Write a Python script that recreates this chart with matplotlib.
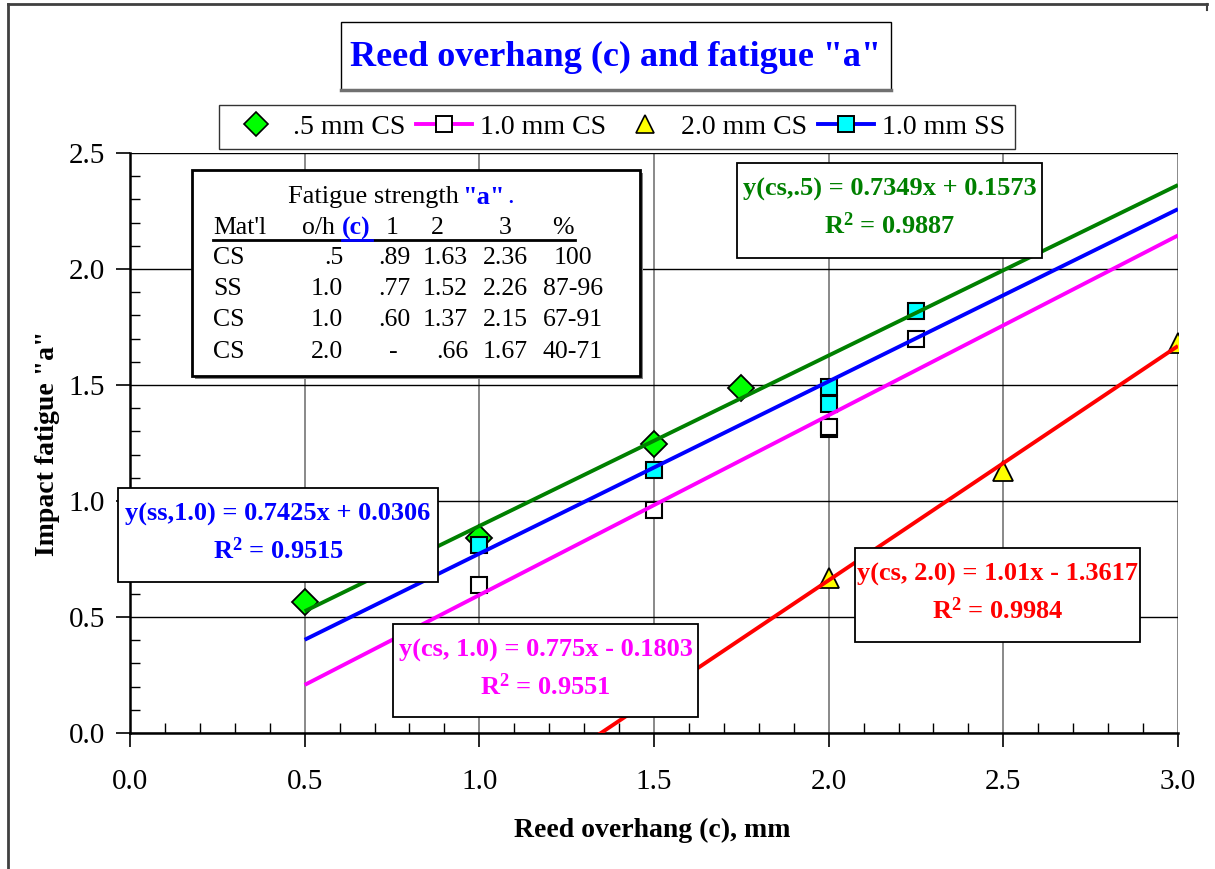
import matplotlib
matplotlib.use('Agg')
import matplotlib.pyplot as plt
from matplotlib.lines import Line2D
from matplotlib.patches import Rectangle
from matplotlib.ticker import MultipleLocator, FormatStrFormatter

# ---------------- data ----------------
cs05_x = [0.5, 1.0, 1.5, 1.75]
cs05_y = [0.565, 0.84, 1.245, 1.487]

cs10_x = [1.0, 1.5, 2.0, 2.0, 2.25]
cs10_y = [0.64, 0.96, 1.31, 1.32, 1.70]

cs20_x = [2.0, 2.5, 3.0]
cs20_y = [0.67, 1.13, 1.68]

ss10_x = [1.0, 1.5, 2.0, 2.0, 2.25]
ss10_y = [0.81, 1.135, 1.49, 1.42, 1.82]

series_labels = [".5 mm CS", "1.0 mm CS", "2.0 mm CS", "1.0 mm SS"]

# trendlines (from the equations printed on the chart)
trend_slopes = [0.7349, 0.775, 1.01, 0.7425]
trend_intercepts = [0.1573, -0.1803, -1.3617, 0.0306]
trend_xstart = [0.5, 0.5, 1.0, 0.5]
trend_xend = [3.0, 3.0, 3.0, 3.0]
trend_colors = ['#008000', '#FF00FF', '#FF0000', '#0000FF']

eq_line1 = ["y(cs,.5) = 0.7349x + 0.1573", "y(cs, 1.0) = 0.775x - 0.1803",
            "y(cs, 2.0) = 1.01x - 1.3617", "y(ss,1.0) = 0.7425x + 0.0306"]
eq_r2 = ["0.9887", "0.9551", "0.9984", "0.9515"]

table_title = "Fatigue strength"
table_header = ["Mat'l", "o/h", "(c)", "1", "2", "3", "%"]
table_mat = ["CS", "SS", "CS", "CS"]
table_oh = [".5", "1.0", "1.0", "2.0"]
table_c1 = [".89", ".77", ".60", "-"]
table_c2 = ["1.63", "1.52", "1.37", ".66"]
table_c3 = ["2.36", "2.26", "2.15", "1.67"]
table_pct = ["100", "87-96", "67-91", "40-71"]

title = 'Reed overhang (c) and fatigue "a"'
xlabel = "Reed overhang (c), mm"
ylabel = 'Impact fatigue "a"'

# ---------------- figure ----------------
W, H = 1215, 869
plt.rcParams['font.family'] = ['Liberation Serif', 'DejaVu Serif']
plt.rcParams['mathtext.fontset'] = 'custom'
plt.rcParams['mathtext.rm'] = 'Liberation Serif'
plt.rcParams['mathtext.bf'] = 'Liberation Serif:bold'
plt.rcParams['mathtext.it'] = 'Liberation Serif:italic'


def fx(px):
    return px / W


def fy(py):
    return 1 - py / H


fig = plt.figure(figsize=(W / 100, H / 100), dpi=100)
ax = fig.add_axes([fx(130), fy(733), (1178 - 130) / W, (733 - 153) / H])
ax.set_xlim(0, 3.0)
ax.set_ylim(0, 2.5)

# markers
ax.plot(cs05_x, cs05_y, linestyle='none', marker='D', markersize=13,
        markerfacecolor='#00FF00', markeredgecolor='black', markeredgewidth=1.3, zorder=3)
ax.plot(cs10_x, cs10_y, linestyle='none', marker='s', markersize=12,
        markerfacecolor='white', markeredgecolor='black', markeredgewidth=1.5, zorder=3)
ax.plot(cs20_x, cs20_y, linestyle='none', marker='^', markersize=14.5,
        markerfacecolor='#FFFF00', markeredgecolor='black', markeredgewidth=1.3, zorder=3)
ax.plot(ss10_x, ss10_y, linestyle='none', marker='s', markersize=12,
        markerfacecolor='#00FFFF', markeredgecolor='black', markeredgewidth=1.5, zorder=3)

# trendlines
for m, b, x0, x1, c in zip(trend_slopes, trend_intercepts, trend_xstart, trend_xend, trend_colors):
    ax.plot([x0, x1], [m * x0 + b, m * x1 + b], color=c, lw=2.8, zorder=4, solid_capstyle='butt')

# grid / axes styling
ax.set_axisbelow(True)
ax.xaxis.set_major_locator(MultipleLocator(0.5))
ax.xaxis.set_minor_locator(MultipleLocator(0.1))
ax.yaxis.set_major_locator(MultipleLocator(0.5))
ax.yaxis.set_minor_locator(MultipleLocator(0.1))
ax.xaxis.set_major_formatter(FormatStrFormatter('%.1f'))
ax.yaxis.set_major_formatter(FormatStrFormatter('%.1f'))
ax.xaxis.grid(True, which='major', color='#808080', lw=1.3)
ax.yaxis.grid(True, which='major', color='black', lw=1.0)
for s in ['top', 'right']:
    ax.spines[s].set_visible(False)
for s in ['left', 'bottom']:
    ax.spines[s].set_linewidth(1.8)
ax.tick_params(axis='x', which='major', direction='out', length=10, width=1.2, pad=16, labelsize=21)
ax.tick_params(axis='x', which='minor', direction='in', length=7, width=1.0)
ax.tick_params(axis='y', which='major', direction='out', length=10, width=1.2, pad=8, labelsize=21)
ax.tick_params(axis='y', which='minor', direction='in', length=7, width=1.0)

ax.set_xlabel(xlabel, fontsize=20, fontweight='bold')
ax.xaxis.set_label_coords((652 - 130) / 1048, (733 - 818) / 580)
ax.set_ylabel(ylabel, fontsize=20, fontweight='bold')
ax.yaxis.set_label_coords((60 - 130) / 1048, 0.5)


def box(x0, y0, x1, y1, lw=1.3, shadow=False):
    if shadow:
        fig.add_artist(Rectangle((fx(x0 + 3), fy(y1 + 3)), (x1 - x0) / W, (y1 - y0) / H,
                                 transform=fig.transFigure, facecolor='#808080',
                                 edgecolor='none', zorder=5))
    fig.add_artist(Rectangle((fx(x0), fy(y1)), (x1 - x0) / W, (y1 - y0) / H,
                             transform=fig.transFigure, facecolor='white',
                             edgecolor='black', lw=lw, zorder=6))


# outer chart border
fig.add_artist(Line2D([fx(8), fx(8)], [fy(4), fy(880)], color='#404040', lw=2, transform=fig.transFigure))
fig.add_artist(Line2D([fx(8), fx(1207)], [fy(4), fy(4)], color='#404040', lw=2, transform=fig.transFigure))
fig.add_artist(Line2D([fx(1207), fx(1207)], [fy(4), fy(10)], color='#404040', lw=1.5, transform=fig.transFigure))

# title
box(341, 22, 891, 90, lw=1.0)
fig.add_artist(Line2D([fx(341), fx(891)], [fy(90), fy(90)], color='#707070', lw=2.5,
                      transform=fig.transFigure, zorder=7))
fig.text(fx(616), fy(57), title, ha='center', va='center', fontsize=26,
         fontweight='bold', color='#0000FF', zorder=8)

# legend
handles = [
    Line2D([], [], linestyle='none', marker='D', markersize=12, markerfacecolor='#00FF00',
           markeredgecolor='black', markeredgewidth=1.2),
    Line2D([], [], color='#FF00FF', lw=2.8, marker='s', markersize=11, markerfacecolor='white',
           markeredgecolor='black', markeredgewidth=1.4),
    Line2D([], [], linestyle='none', marker='^', markersize=13, markerfacecolor='#FFFF00',
           markeredgecolor='black', markeredgewidth=1.2),
    Line2D([], [], color='#0000FF', lw=2.8, marker='s', markersize=11, markerfacecolor='#00FFFF',
           markeredgecolor='black', markeredgewidth=1.4),
]
leg = fig.legend(handles, series_labels, ncol=4, loc='center',
                 bbox_to_anchor=(fx(617), fy(127)), frameon=True, fancybox=False,
                 edgecolor='black', prop={'size': 20}, handlelength=2.0,
                 handletextpad=0.3, columnspacing=0.4, borderpad=0.35, borderaxespad=0)
leg.get_frame().set_linewidth(1.0)
leg.set_zorder(8)

# fatigue strength table
box(192, 170, 640, 376, lw=2.0, shadow=True)
ts = 18.5
fig.text(fx(288), fy(197), table_title, ha='left', va='center', fontsize=19, zorder=8)
fig.text(fx(462), fy(197), '"a"', ha='left', va='center', fontsize=19, fontweight='bold',
         color='#0000FF', zorder=8)
fig.text(fx(507), fy(197), '.', ha='left', va='center', fontsize=19, color='#0000FF', zorder=8)

hy = 228
fig.text(fx(213), fy(hy), table_header[0], ha='left', va='center', fontsize=ts, zorder=8)
fig.text(fx(302), fy(hy), table_header[1], ha='left', va='center', fontsize=ts, zorder=8)
fig.text(fx(342), fy(hy), table_header[2], ha='left', va='center', fontsize=ts,
         fontweight='bold', color='#0000FF', zorder=8)
for lab, cx in zip(table_header[3:], [392, 437, 505, 563]):
    fig.text(fx(cx), fy(hy), lab, ha='center', va='center', fontsize=ts, zorder=8)
fig.add_artist(Line2D([fx(213), fx(575)], [fy(240), fy(240)], color='black', lw=2,
                      transform=fig.transFigure, zorder=8))
fig.add_artist(Line2D([fx(342), fx(372)], [fy(240), fy(240)], color='#0000FF', lw=2,
                      transform=fig.transFigure, zorder=9))

row_y = [258, 289, 320, 352]
for i, ry in enumerate(row_y):
    fig.text(fx(213), fy(ry), table_mat[i], ha='left', va='center', fontsize=ts, zorder=8)
    fig.text(fx(343), fy(ry), table_oh[i], ha='right', va='center', fontsize=ts, zorder=8)
    if table_c1[i] == '-':
        fig.text(fx(393), fy(ry), table_c1[i], ha='center', va='center', fontsize=ts, zorder=8)
    else:
        fig.text(fx(410), fy(ry), table_c1[i], ha='right', va='center', fontsize=ts, zorder=8)
    fig.text(fx(468), fy(ry), table_c2[i], ha='right', va='center', fontsize=ts, zorder=8)
    fig.text(fx(528), fy(ry), table_c3[i], ha='right', va='center', fontsize=ts, zorder=8)
    fig.text(fx(573), fy(ry), table_pct[i], ha='center', va='center', fontsize=ts, zorder=8)

# equation boxes: (x0, y0, x1, y1)
eq_boxes = [(737, 163, 1042, 258), (393, 624, 698, 717), (855, 548, 1140, 642), (118, 488, 438, 582)]
es = 19
for (x0, y0, x1, y1), l1, r2, c in zip(eq_boxes, eq_line1, eq_r2, trend_colors):
    box(x0, y0, x1, y1, lw=1.3)
    cx = (x0 + x1) / 2
    fig.text(fx(cx), fy(y0 + 26), l1, ha='center', va='center', fontsize=es,
             fontweight='bold', color=c, zorder=8)
    fig.text(fx(cx), fy(y0 + 63), r'R$^{\mathbf{2}}$ = ' + r2, ha='center', va='center',
             fontsize=es, fontweight='bold', color=c, zorder=8)

fig.savefig('out.png', dpi=100)
